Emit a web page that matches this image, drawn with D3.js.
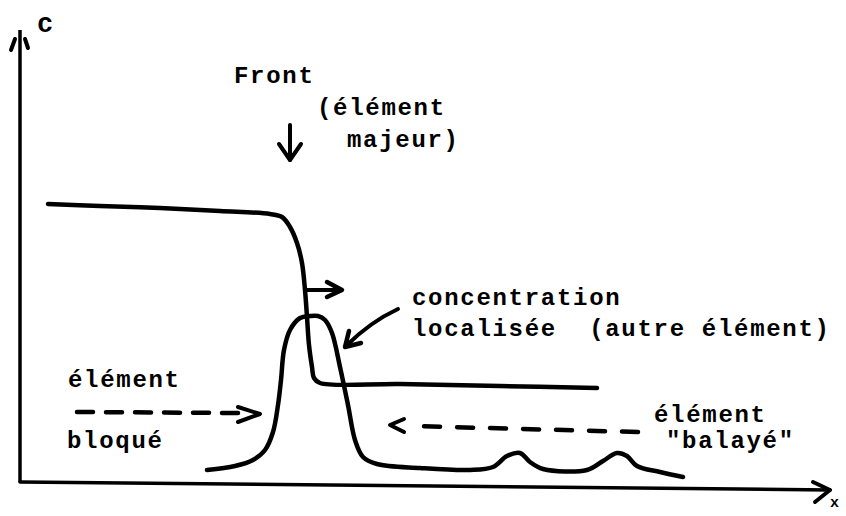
<!DOCTYPE html>
<html>
<head>
<meta charset="utf-8">
<script src="https://cdn.jsdelivr.net/npm/d3@7"></script>
<style>
  html, body { margin: 0; padding: 0; background: #fff; }
  svg { display: block; }
  text { font-family: "Courier New", "Liberation Mono", monospace; font-weight: bold; fill: #000; white-space: pre; }
</style>
</head>
<body>
<svg id="chart" width="846" height="516"></svg>
<script>
// ---- Data (schematic units: 1 unit = distance along x / concentration c) ----
// Front of the major element (concentration profile)
const frontX = [2.8, 8.0, 14.0, 20.0, 25.0, 26.2, 27.0, 27.7, 28.2, 28.5, 28.7, 28.9, 29.2, 29.4, 30.0, 38.0, 48.0, 57.7];
const frontC = [27.8, 27.6, 27.4, 27.1, 26.8, 26.5, 25.5, 23.9, 21.9, 19.2, 16.5, 13.7, 11.5, 10.4, 9.9, 9.8, 9.6, 9.4];
// Localised concentration of the other element (peak + small swept bumps)
const peakX = [18.7, 21.5, 23.3, 24.5, 25.3, 25.8, 26.1, 26.4, 27.0, 28.0, 29.0, 29.8, 30.5, 31.2, 32.0, 32.8, 33.5, 34.3, 35.7, 40.0, 45.0, 47.3, 48.7, 50.0, 51.0, 52.3, 56.7, 58.3, 59.7, 60.7, 61.7, 64.0, 66.3];
const peakC = [1.2, 1.6, 2.2, 3.2, 5.0, 7.7, 10.2, 13.2, 15.2, 16.4, 16.6, 16.6, 16.2, 14.9, 11.5, 7.7, 4.2, 2.5, 1.8, 1.4, 1.2, 1.5, 2.6, 2.9, 2.0, 1.3, 1.2, 2.1, 2.9, 2.6, 1.6, 1.0, 0.5];

// Labels
const axisLabels = { y: "c", x: "x" };
const frontLabel = ["Front", "(élément", "majeur)"];
const peakLabel = ["concentration", "localisée  (autre élément)"];
const blockedLabel = ["élément", "bloqué"];
const sweptLabel = ["élément", "\"balayé\""];

// ---- Scales ----
const svg = d3.select("#chart");
const x = d3.scaleLinear().domain([0, 81]).range([20, 830]);
const y = d3.scaleLinear().domain([0, 45.2]).range([482, 30]);

const line = d3.line().x(d => x(d[0])).y(d => y(d[1]));
const smooth = d3.line().x(d => x(d[0])).y(d => y(d[1])).curve(d3.curveCatmullRom.alpha(0.5));

function stroke(sel, w) {
  return sel.attr("fill", "none").attr("stroke", "#000").attr("stroke-width", w)
    .attr("stroke-linecap", "round").attr("stroke-linejoin", "round");
}

// ---- Axes ----
stroke(svg.append("path").attr("d", line([[0, 45.2], [0, 0]])), 3.5).attr("stroke-linecap", "butt");
stroke(svg.append("path").attr("d", line([[-0.5, 44.3], [-0.9, 43.2]])), 4);
stroke(svg.append("path").attr("d", line([[0.5, 44.3], [0.8, 43.4]])), 4);
stroke(svg.append("path").attr("d", line([[0, 0], [81, -0.8]])), 3.5);
stroke(svg.append("path").attr("d", line([[79.3, 0.0], [81, -0.8], [79.5, -2.0]])), 4);

// ---- Curves ----
stroke(svg.append("path").attr("d", smooth(frontX.map((v, i) => [v, frontC[i]]))), 4.5);
stroke(svg.append("path").attr("d", smooth(peakX.map((v, i) => [v, peakC[i]]))), 4.5);

// ---- Arrows ----
// Front arrow (down)
stroke(svg.append("path").attr("d", line([[27, 35.7], [27, 32.2]])), 4);
stroke(svg.append("path").attr("d", line([[25.9, 33.8], [27, 32.2], [28.1, 33.8]])), 4);
// Small arrow to the right (front displacement)
stroke(svg.append("path").attr("d", line([[28.6, 19.2], [32.0, 19.2]])), 4);
stroke(svg.append("path").attr("d", line([[30.7, 20.0], [32.2, 19.2], [30.7, 18.5]])), 4.5);
// Curved arrow from label to peak
const q = d3.path();
q.moveTo(x(37.8), y(17.3));
q.quadraticCurveTo(x(35.0), y(16.0), x(32.6), y(13.6));
stroke(svg.append("path").attr("d", q.toString()), 4);
stroke(svg.append("path").attr("d", line([[32.9, 15.1], [32.5, 13.5], [34.1, 13.9]])), 4.5);
// Dashed arrow: blocked element
stroke(svg.append("path").attr("d", line([[5.7, 7.0], [22.0, 6.9]])), 4.5).attr("stroke-dasharray", "16,13");
stroke(svg.append("path").attr("d", line([[21.8, 7.5], [24.0, 6.8], [21.8, 6.0]])), 4);
// Dashed arrow: swept element
stroke(svg.append("path").attr("d", line([[61.8, 5.0], [39.0, 5.6]])), 4.5).attr("stroke-dasharray", "16,17");
stroke(svg.append("path").attr("d", line([[38.4, 6.3], [37.0, 5.7], [38.4, 5.0]])), 4);

// ---- Text ----
function label(str, px, py, size) {
  svg.append("text").attr("x", px).attr("y", py)
    .attr("xml:space", "preserve")
    .attr("font-size", size || 24).attr("letter-spacing", size ? 0 : 1.7)
    .text(str);
}
label(axisLabels.y, 37, 32, 27);
label(axisLabels.x, 830, 507, 15);
label(frontLabel[0], 234, 83);
label(frontLabel[1], 317, 115);
label(frontLabel[2], 347, 147);
label(peakLabel[0], 412, 305);
label(peakLabel[1], 412, 336);
label(blockedLabel[0], 68, 387);
label(blockedLabel[1], 67, 448);
label(sweptLabel[0], 654, 422);
label(sweptLabel[1], 666, 448);
</script>
</body>
</html>
